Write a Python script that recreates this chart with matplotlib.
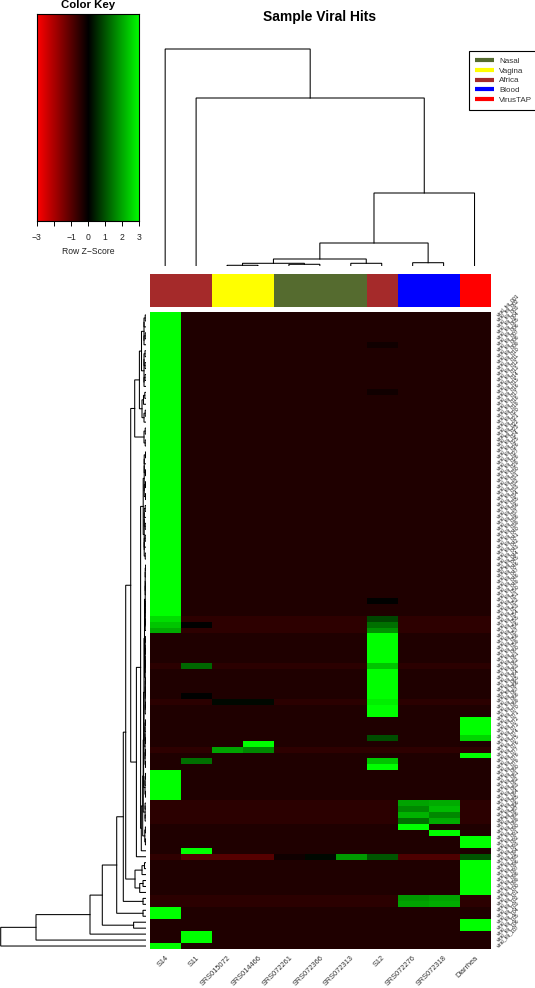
#!/usr/bin/env python3
"""Heatmap of sample viral hits with dendrograms, colour key and legend."""
import matplotlib
matplotlib.use("Agg")
import matplotlib.pyplot as plt
import numpy as np
from matplotlib.colors import LinearSegmentedColormap, ListedColormap
from matplotlib.lines import Line2D

W, H = 535, 988

samples = ["S14", "S11", "SRS015072", "SRS014466", "SRS072261", "SRS072366",
           "SRS072313", "S12", "SRS072276", "SRS072318", "Diarrhea"]
sample_groups = ["Africa", "Africa", "Vagina", "Vagina", "Nasal", "Nasal",
                 "Nasal", "Africa", "Blood", "Blood", "VirusTAP"]
group_names = ["Nasal", "Vagina", "Africa", "Blood", "VirusTAP"]
group_colors = ["#556B2F", "#FFFF00", "#A52A2A", "#0000FF", "#FF0000"]
key_ticks = [-3, -2, -1, 0, 1, 2, 3]
key_labels = ["\u22123", "", "\u22121", "0", "1", "2", "3"]

# the row names are too small to read in the source, so these are stand-ins
row_labels = [f"viral_hit_{i:03d}" for i in range(1, 108)]

# z-score of a row where nothing was hit, top row first
row_background = ([-0.37] * 51 + [-0.52] * 3 + [-0.37] * 5 + [-0.5] + [-0.37] * 5
                  + [-0.5] + [-0.37] * 7 + [-0.52] + [-0.37] * 8 + [-0.5] * 4
                  + [-0.37] * 5 + [-0.55] + [-0.37] * 6 + [-0.5] * 2 + [-0.37] * 7)

# hits per sample: row -> z-score
s14_hits = {**{r: 3.0 for r in range(0, 51)}, 51: 2.6, 52: 2.3, 53: 2.0,
            **{r: 3.0 for r in (77, 78, 79, 80, 81, 100, 101, 106)}}
s11_hits = {52: 0.0, 59: 1.2, 64: 0.0, 75: 1.3, 90: 3.0, 91: -1.0, 104: 3.0, 105: 3.0}
srs015072_hits = {65: 0.1, 73: 1.9, 91: -1.0}
srs014466_hits = {65: 0.1, 72: 3.0, 73: 1.6, 91: -1.0}
srs072261_hits = {91: -0.2}
srs072366_hits = {91: 0.1}
srs072313_hits = {91: 1.8}
s12_hits = {5: -0.2, 13: -0.2, 48: 0.0, 51: 0.8, 52: 1.3, 53: 1.7,
            **{r: 3.0 for r in range(54, 68)}, 59: 2.3, 65: 2.8, 71: 0.9,
            75: 2.3, 76: 3.0, 91: 1.0}
srs072276_hits = {82: 1.9, 83: 1.6, 84: 2.1, 85: 1.3, 86: 3.0, 91: -0.9, 98: 1.8, 99: 1.9}
srs072318_hits = {82: 2.0, 83: 2.2, 84: 1.6, 85: 2.0, 87: 3.0, 91: -0.9, 98: 1.9, 99: 2.0}
diarrhea_hits = {68: 3.0, 69: 3.0, 70: 3.0, 71: 2.5, 74: 3.0, 88: 3.0, 89: 3.0, 91: 1.0,
                 92: 3.0, 93: 3.0, 94: 3.0, 95: 3.0, 96: 3.0, 97: 3.0, 102: 3.0, 103: 3.0}
column_hits = [s14_hits, s11_hits, srs015072_hits, srs014466_hits, srs072261_hits,
               srs072366_hits, srs072313_hits, s12_hits, srs072276_hits,
               srs072318_hits, diarrhea_hits]

# column dendrogram: (left, right, height), -k means merge number k-1
col_merges = [(2, 3, 0.7), (4, 5, 1.7), (-1, -2, 2.7), (6, 7, 2.7), (-3, -4, 7.0),
              (8, 9, 3.3), (-5, -6, 23.0), (-7, 10, 73.0), (1, -8, 168.0), (0, -9, 217.0)]

# row dendrogram: low clusters (first row, last row, height, height of the row pairs)
row_clusters = {
    "a": (0, 5, 2.0, 0.8), "b": (6, 12, 2.0, 1.0), "c": (13, 15, 2.5, 1.2),
    "d": (16, 18, 2.0, 0.8), "e": (19, 22, 2.0, 0.8), "f": (23, 31, 1.8, 0.5),
    "g": (32, 41, 1.8, 0.8), "h": (42, 53, 0.8, 0.4), "i": (54, 67, 0.8, 0.4),
    "j": (68, 76, 1.0, 0.5), "k": (77, 81, 1.0, 0.5), "l": (82, 85, 0.9, 0.9),
    "m": (86, 89, 1.2, 0.6), "n": (92, 94, 4.0, 1.5), "o": (95, 96, 3.0, 3.0),
    "p": (98, 99, 3.0, 3.0), "q": (100, 101, 3.0, 3.0), "s": (102, 103, 12.4, 12.4),
}
# joins above the clusters: (name, left, right, height), "r90" is row 90 alone
row_joins = [
    ("ab", "a", "b", 4.5), ("cd", "c", "d", 4.0), ("abcd", "ab", "cd", 6.6),
    ("abcde", "abcd", "e", 11.3), ("fg", "f", "g", 2.8), ("hi", "h", "i", 1.5),
    ("hij", "hi", "j", 2.0), ("hijk", "hij", "k", 2.4), ("hijkl", "hijk", "l", 2.8),
    ("hm", "hijkl", "m", 3.3), ("hm90", "hm", "r90", 4.7), ("fm", "fg", "hm90", 5.4),
    ("fm91", "fm", "r91", 9.6), ("top", "abcde", "fm91", 15.3), ("o97", "o", "r97", 6.3),
    ("no", "n", "o97", 11.0), ("tn", "top", "no", 20.3), ("tp", "tn", "p", 22.7),
    ("tq", "tp", "q", 29.3), ("ts", "tq", "s", 43.7), ("t104", "ts", "r104", 56.0),
    ("t105", "t104", "r105", 110.0), ("root", "t105", "r106", 145.3),
]

plt.rcParams["font.family"] = ["Liberation Sans", "DejaVu Sans"]
fig = plt.figure(figsize=(W / 100, H / 100), dpi=100)


def px_axes(x0, y0, x1, y1):
    return fig.add_axes([x0 / W, 1 - y1 / H, (x1 - x0) / W, (y1 - y0) / H])


def build_cluster(first, last, height, pair_height, segments):
    """Join rows first..last two by two and return the row position of the top."""
    if first == last:
        return first + 0.5, 0.0
    mid = (first + last) // 2
    top_a = build_cluster(first, mid, height, pair_height, segments)
    top_b = build_cluster(mid + 1, last, height, pair_height, segments)
    h = pair_height if last - first <= 1 else height
    segments.append((top_a, top_b, h))
    return (top_a[0] + top_b[0]) / 2, h


def draw_link(ax, a, b, h, horizontal=False):
    xs, ys = [a[1], h, h, b[1]], [a[0], a[0], b[0], b[0]]
    if not horizontal:
        xs, ys = ys, xs
    ax.plot(xs, ys, color="black", lw=0.75, solid_joinstyle="miter", snap=False)


heat = np.tile(np.array(row_background)[:, None], (1, len(samples)))
for col, hits in enumerate(column_hits):
    for row, z in hits.items():
        heat[row, col] = z
redgreen = LinearSegmentedColormap.from_list("redgreen", ["#FF0000", "#000000", "#00FF00"])

# heatmap
ax = px_axes(149.7, 312, 490, 949)
ax.imshow(heat, cmap=redgreen, vmin=-3, vmax=3, aspect="auto", interpolation="nearest")
ax.set_xticks(np.arange(len(samples)))
ax.set_xticklabels(samples, rotation=45, ha="right", rotation_mode="anchor",
                   fontsize=5.3, color="#333333")
ax.tick_params(axis="x", length=0, pad=4)
ax.set_yticks([])
for s in ax.spines.values():
    s.set_visible(False)
for row, name in enumerate(row_labels):
    ax.text(10.73, row, name, rotation=45, rotation_mode="anchor", ha="left",
            va="center", fontsize=3.7, color="#111111", clip_on=False)

# sample colour bar
ax = px_axes(149.7, 274, 490, 306.7)
bar_cmap = ListedColormap(group_colors)
ax.imshow([[group_names.index(g) for g in sample_groups]], cmap=bar_cmap, vmin=0,
          vmax=len(group_names) - 1, aspect="auto", interpolation="nearest")
ax.axis("off")

# column dendrogram
ax = px_axes(149.7, 40, 490, 266)
ax.set_xlim(-0.5, len(samples) - 0.5)
ax.set_ylim(0, 226)
ax.axis("off")
tops = []
for left, right, height in col_merges:
    a = (left, 0.0) if left >= 0 else tops[-left - 1]
    b = (right, 0.0) if right >= 0 else tops[-right - 1]
    draw_link(ax, a, b, height)
    tops.append(((a[0] + b[0]) / 2, height))

# row dendrogram
ax = px_axes(0, 312, 146, 949)
ax.set_xlim(146, 0)
ax.set_ylim(len(row_labels), 0)
ax.axis("off")
links = []
nodes = {}
for name, (first, last, height, pair_height) in row_clusters.items():
    nodes[name] = build_cluster(first, last, height, pair_height, links)
for row in (90, 91, 97, 104, 105, 106):
    nodes[f"r{row}"] = (row + 0.5, 0.0)
for name, left, right, height in row_joins:
    a, b = nodes[left], nodes[right]
    links.append((a, b, height))
    nodes[name] = ((a[0] + b[0]) / 2, height)
for a, b, height in links:
    draw_link(ax, a, b, height, horizontal=True)

# colour key
ax = px_axes(36.9, 14.5, 139.2, 220.7)
gradient = np.linspace(-3, 3, 256)[None, :]
ax.imshow(gradient, cmap=redgreen, vmin=-3, vmax=3, aspect="auto",
          extent=[-3, 3, 0, 1], interpolation="bilinear")
ax.set_yticks([])
ax.set_xticks(key_ticks)
ax.set_xticklabels(key_labels, fontsize=6.2, color="#222222")
ax.tick_params(axis="x", length=3.6, width=0.7, pad=5)
ax.set_xlabel("Row Z\u2212Score", fontsize=6.2, color="#222222", labelpad=4)
ax.set_title("Color Key", fontsize=8.2, fontweight="bold", pad=4.5)
for s in ax.spines.values():
    s.set_linewidth(0.8)

fig.text(319.5 / W, 1 - 17 / H, "Sample Viral Hits", fontsize=10, fontweight="bold",
         ha="center", va="center")

# legend
handles = [Line2D([], [], color=c, lw=3, solid_capstyle="butt") for c in group_colors]
fig.legend(handles, group_names, loc="upper left", bbox_to_anchor=(468.8 / W, 1 - 51.5 / H),
           borderaxespad=0, fontsize=5.8, frameon=True, fancybox=False, framealpha=1,
           edgecolor="black", labelcolor="#333333", handlelength=2.35, handletextpad=0.7,
           labelspacing=0.25, borderpad=0.75).get_frame().set_linewidth(0.8)

fig.savefig("out.png", dpi=100)
